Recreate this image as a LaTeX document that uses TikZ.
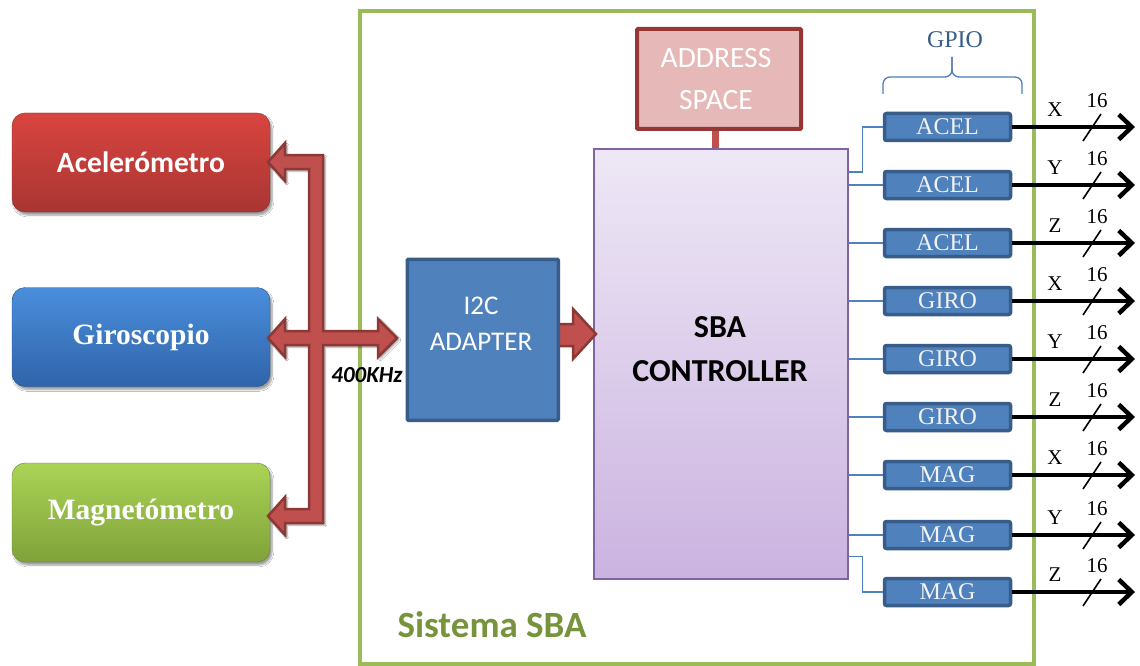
\documentclass[tikz,border=0pt]{standalone}
\usepackage{fontspec}
\setmainfont{Liberation Serif}
\newfontfamily\calibri{Carlito}
\usetikzlibrary{arrows.meta,shadows.blur}
\definecolor{sysgreen}{HTML}{9BBB59}
\definecolor{systext}{HTML}{77933C}
\definecolor{accblue}{HTML}{4F81BD}
\definecolor{darkblue}{HTML}{385D8A}
\definecolor{busred}{HTML}{C0504D}
\definecolor{busdark}{HTML}{8C3836}
\definecolor{addrfill}{HTML}{E6B9B8}
\definecolor{addrdraw}{HTML}{953735}
\definecolor{ctrltop}{HTML}{EEE8F6}
\definecolor{ctrlbot}{HTML}{CBB3E0}
\definecolor{ctrldraw}{HTML}{8064A2}
\definecolor{bracecol}{HTML}{4A7EBB}
\definecolor{redtop}{HTML}{D9443F}
\definecolor{redbot}{HTML}{A83633}
\definecolor{bluetop}{HTML}{4A8EDB}
\definecolor{bluebot}{HTML}{3064AA}
\definecolor{greentop}{HTML}{AAD456}
\definecolor{greenbot}{HTML}{80A23A}
\tikzset{
  sensor/.style={rounded corners=13pt, minimum width=258pt, minimum height=99pt,
    text=white, blur shadow={shadow blur steps=6, shadow xshift=2pt, shadow yshift=-3pt}},
  gpiobox/.style={rectangle, rounded corners=2pt, fill=accblue, draw=darkblue, line width=3.5pt,
    minimum width=126pt, minimum height=27pt, inner sep=0pt, text=white!95!black,
    font=\fontsize{24}{26}\selectfont},
  ctrlline/.style={draw=accblue, line width=1.3pt},
  outarrow/.style={line width=4.5pt, -{Straight Barb[length=13pt,width=25pt,line width=4.5pt]}},
  axislabel/.style={font=\fontsize{21}{22}\selectfont, inner sep=0pt},
  slashmark/.style={line width=1.6pt}
}
\begin{document}
\begin{tikzpicture}[x=1pt,y=-1pt]
\useasboundingbox (0,0) rectangle (1140,666);
\fill[white] (0,0) rectangle (1140,666);

% system boundary
\draw[draw=sysgreen, line width=4pt] (360,11) rectangle (1034,664);
\node[font=\calibri\bfseries\fontsize{37}{40}\selectfont, text=systext] (sys) at (492,625) {Sistema SBA};

% sensors
\node[sensor, top color=redtop, bottom color=redbot, draw=redbot!80!black,
  font=\calibri\bfseries\fontsize{29.5}{32}\selectfont] (acel) at (141,162.5) {Acelerómetro};
\node[sensor, top color=bluetop, bottom color=bluebot, draw=bluebot!80!black,
  font=\bfseries\fontsize{29.5}{32}\selectfont] (giro) at (141,337) {Giroscopio};
\node[sensor, top color=greentop, bottom color=greenbot, draw=greenbot!80!black,
  font=\bfseries\fontsize{29.5}{32}\selectfont] (mag) at (141,512.5) {Magnetómetro};

% bus arrow (I2C)
\filldraw[fill=busred, draw=busdark, line width=2.5pt, line join=miter,
  blur shadow={shadow blur steps=5, shadow xshift=2pt, shadow yshift=-2pt}]
  (268,162) -- (285,143) -- (285,155) -- (323,155) -- (323,331) -- (378,331) -- (378,319)
  -- (397,338) -- (378,357) -- (378,345) -- (323,345) -- (323,523) -- (285,523) -- (285,535)
  -- (268,516) -- (285,497) -- (285,509) -- (309,509) -- (309,345) -- (285,345) -- (285,357)
  -- (268,338) -- (285,319) -- (285,331) -- (309,331) -- (309,169) -- (285,169) -- (285,181) -- cycle;
\node[font=\calibri\bfseries\itshape\fontsize{23}{24}\selectfont, inner sep=0pt] (khz) at (367,375) {400KHz};

% controller
\node[rectangle, top color=ctrltop, bottom color=ctrlbot, draw=ctrldraw, line width=1.5pt,
  minimum width=254pt, minimum height=430pt, anchor=north west, inner sep=0pt] (ctrl) at (593,148) {};
\node[font=\calibri\bfseries\fontsize{32}{44}\selectfont, align=center] (ctrltxt) at (720,349) {SBA\\CONTROLLER};

% I2C adapter and arrow into controller
\filldraw[fill=busred, draw=busdark, line width=2.5pt]
  (553,324) -- (573,324) -- (573,309) -- (596,334) -- (573,359) -- (573,346) -- (553,346) -- cycle;
\node[rectangle, fill=accblue, draw=darkblue, line width=3.5pt, minimum width=151pt, minimum height=161pt,
  anchor=north west, inner sep=0pt, rounded corners=1pt] (i2c) at (405.5,257.5) {};
\node[text=white, font=\calibri\fontsize{27}{36}\selectfont, align=center] (i2ctxt) at (481,324) {I2C\\ADAPTER};

% address space
\draw[draw=busred, line width=7pt] (715,128) -- (715,148);
\node[rectangle, fill=addrfill, draw=addrdraw, line width=4pt, minimum width=164pt, minimum height=100pt,
  anchor=north west, inner sep=0pt, rounded corners=1pt] (addr) at (635,27) {};
\node[text=white, font=\calibri\fontsize{29.5}{42}\selectfont, align=center] (addrtxt) at (716,79) {ADDRESS\\SPACE};

% GPIO brace and label
\draw[draw=bracecol, line width=1.3pt, rounded corners=7pt] (883,94) -- (883,77) -- (952,77) -- (952,57);
\draw[draw=bracecol, line width=1.3pt, rounded corners=7pt] (1022,94) -- (1022,77) -- (952,77) -- (952,57);
\node[text=darkblue, font=\fontsize{24}{26}\selectfont] (gpio) at (955,40) {GPIO};

% GPIO blocks and outputs
\foreach \i/\yy/\t/\l in {1/127/ACEL/X,2/185/ACEL/Y,3/243/ACEL/Z,4/301/GIRO/X,5/359/GIRO/Y,6/417/GIRO/Z,7/475/MAG/X,8/535/MAG/Y,9/592/MAG/Z}{
  \node[gpiobox] (g\i) at (947.5,\yy) {\t};
  \coordinate (o\i) at (1135,\yy);
  \draw[outarrow] (g\i.east) -- (o\i);
  \node[axislabel] (ax\i) at (1055,\yy-17) {\l};
  \node[axislabel] (w\i) at (1097,\yy-26) {16};
  \draw[slashmark] (1083,\yy+14) -- (1101,\yy-13);
}

% controller to GPIO lines
\draw[ctrlline] ([yshift=-24pt]ctrl.north east) -- ++(14,0) |- (g1.west);
\foreach \i in {2,...,8}{
  \draw[ctrlline] (ctrl.east |- g\i.west) -- (g\i.west);
}
\draw[ctrlline] ([yshift=23pt]ctrl.south east) -- ++(14,0) |- (g9.west);
\end{tikzpicture}
\end{document}
